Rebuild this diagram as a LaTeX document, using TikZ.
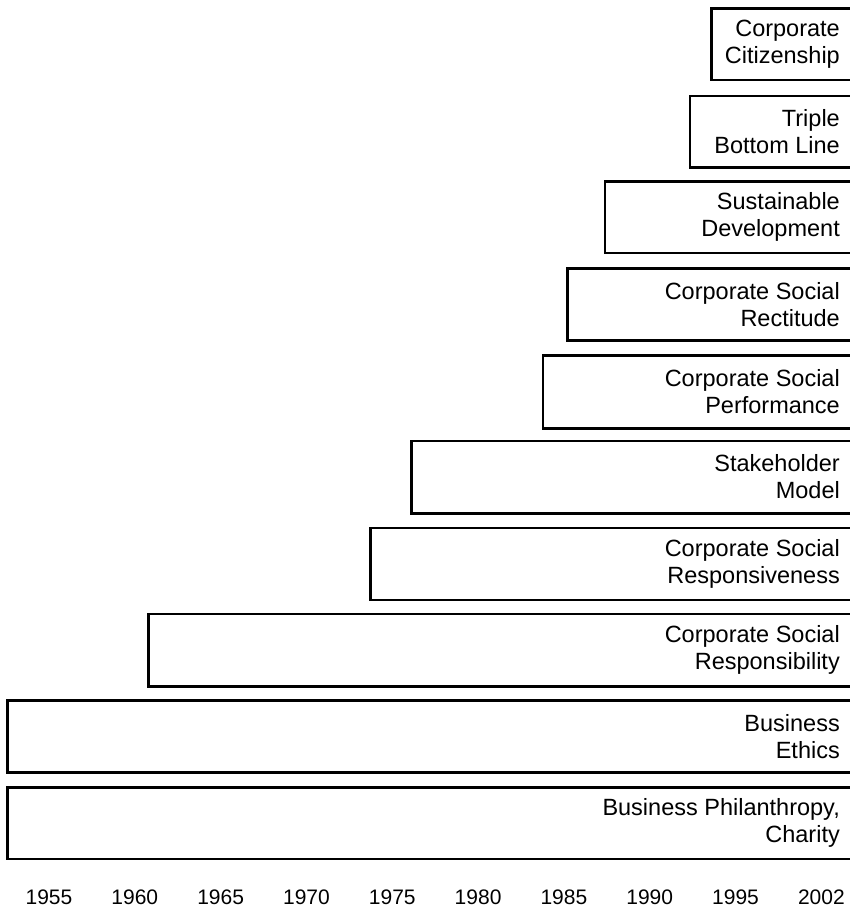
\documentclass[tikz,border=0pt]{standalone}
\usepackage{fontspec}
\setmainfont{Liberation Sans}
\usetikzlibrary{positioning}
\tikzset{
	erabox/.style={line width=2.6pt,line join=miter},
	eralabel/.style={anchor=east,align=right,inner sep=0pt,font=\fontsize{23.5}{27}\selectfont},
	yearlabel/.style={inner sep=0pt,font=\fontsize{21}{24}\selectfont}
}

\begin{document}
\begin{tikzpicture}[line cap=round,line join=round,x=1pt,y=-1pt]
		\useasboundingbox (0,0) rectangle (850,909);
		\clip (0,0) rectangle (850,909);
		% the ten eras, newest on top
		\draw [erabox] (711.5,8.5) rectangle (870,80);
		\draw [erabox] (690,96) rectangle (870,167.5);
		\draw [erabox] (605,181.5) rectangle (870,253);
		\draw [erabox] (567.5,268.5) rectangle (870,340.5);
		\draw [erabox] (543,355.5) rectangle (870,428.5);
		\draw [erabox] (411.5,441) rectangle (870,513.5);
		\draw [erabox] (370.5,528) rectangle (870,600);
		\draw [erabox] (148.5,614) rectangle (870,686.5);
		\draw [erabox] (7.5,700.5) rectangle (870,772.5);
		\draw [erabox] (7.5,787.5) rectangle (870,859);
		\node (citizenship) [eralabel] at (840,44) {Corporate\\Citizenship};
		\node (triple) [eralabel] at (840,132) {Triple\\Bottom Line};
		\node (sustain) [eralabel] at (840,217) {Sustainable\\Development};
		\node (rectitude) [eralabel] at (840,304.5) {Corporate Social\\Rectitude};
		\node (performance) [eralabel] at (840,392) {Corporate Social\\Performance};
		\node (stakeholder) [eralabel] at (840,477) {Stakeholder\\Model};
		\node (responsiveness) [eralabel] at (840,564) {Corporate Social\\Responsiveness};
		\node (responsibility) [eralabel] at (840,650) {Corporate Social\\Responsibility};
		\node (ethics) [eralabel] at (840,736.5) {Business\\Ethics};
		\node (charity) [eralabel] at (840,823) {Business Philanthropy,\\Charity};
		% time axis
		\node (y1955) [yearlabel] at (49,897) {1955};
		\node (y1960) [yearlabel, right=38.7pt of y1955] {1960};
		\node (y1965) [yearlabel, right=38.7pt of y1960] {1965};
		\node (y1970) [yearlabel, right=38.7pt of y1965] {1970};
		\node (y1975) [yearlabel, right=38.7pt of y1970] {1975};
		\node (y1980) [yearlabel, right=38.7pt of y1975] {1980};
		\node (y1985) [yearlabel, right=38.7pt of y1980] {1985};
		\node (y1990) [yearlabel, right=38.7pt of y1985] {1990};
		\node (y1995) [yearlabel, right=38.7pt of y1990] {1995};
		\node (y2002) [yearlabel, right=38.7pt of y1995] {2002};
	\end{tikzpicture}
\end{document}
